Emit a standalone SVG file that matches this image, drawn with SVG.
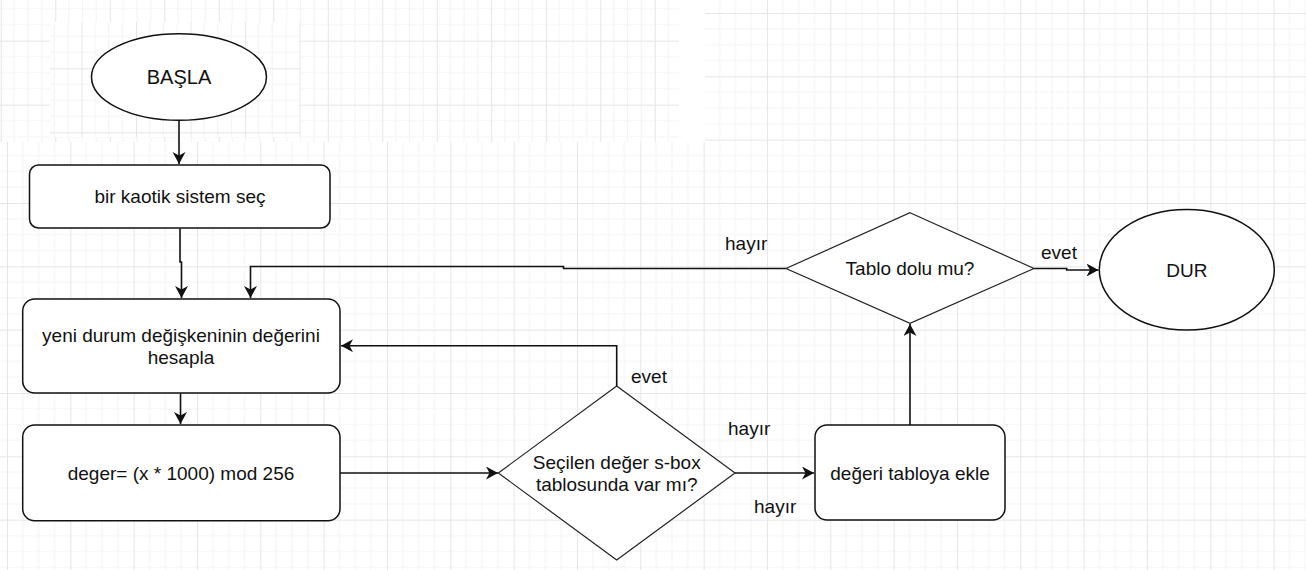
<svg xmlns="http://www.w3.org/2000/svg" width="1306" height="570" viewBox="0 0 1306 570">
<style>
.node{fill:#fff;stroke:#111;stroke-width:1.5}
.dia{fill:#fff;stroke:#222;stroke-width:1.2}
.t{font-family:"Liberation Sans",Arial,sans-serif;font-size:19px;fill:#111;text-anchor:middle}
.lbl{font-family:"Liberation Sans",Arial,sans-serif;font-size:19px;fill:#111}
.c{fill:none;stroke:#111;stroke-width:1.6}
</style>
<defs>
<pattern id="g" patternUnits="userSpaceOnUse" x="7" y="13" width="63.33" height="63.33">
<path d="M15.83,0V63.33M31.67,0V63.33M47.5,0V63.33M0,15.83H63.33M0,31.67H63.33M0,47.5H63.33" stroke="#f3f3f3" stroke-width="1" fill="none"/>
<path d="M0.5,0V63.33M0,0.5H63.33" stroke="#e6e6e6" stroke-width="1" fill="none"/>
</pattern>
<pattern id="g2" patternUnits="userSpaceOnUse" x="0.8" y="-23.3" width="54.5" height="64">
<path d="M13.6,0V64M27.25,0V64M40.9,0V64M0,16H54.5M0,32H54.5M0,48H54.5" stroke="#f3f3f3" stroke-width="1" fill="none"/>
<path d="M0.5,0V64M0,0.5H54.5" stroke="#e6e6e6" stroke-width="1" fill="none"/>
</pattern>
<pattern id="g3" patternUnits="userSpaceOnUse" x="27" y="4.3" width="54.5" height="64">
<path d="M13.6,0V64M27.25,0V64M40.9,0V64M0,16H54.5M0,32H54.5M0,48H54.5" stroke="#f3f3f3" stroke-width="1" fill="none"/>
<path d="M0.5,0V64M0,0.5H54.5" stroke="#e6e6e6" stroke-width="1" fill="none"/>
</pattern>
<marker id="a" markerUnits="userSpaceOnUse" markerWidth="14" markerHeight="14" refX="12" refY="6.5" orient="auto">
<path d="M0,0L12,6.5L0,13L3.5,6.5Z" fill="#111"/>
</marker>
</defs>
<g id="background">
<rect width="1306" height="570" fill="#fff"/>
<rect width="1306" height="570" fill="url(#g)"/>
<rect x="0" y="0" width="705" height="142" fill="#fff"/>
<rect x="0" y="0" width="679" height="142" fill="url(#g2)"/>
<rect x="50" y="22" width="250" height="115" fill="#fff"/>
<rect x="50" y="22" width="250" height="115" fill="url(#g3)"/>
</g>
<g id="connectors">
<path class="c" d="M179,120.5V164" marker-end="url(#a)"/>
<path class="c" d="M180,228.5V262H181.5V298" marker-end="url(#a)"/>
<path class="c" d="M786,268.5H563.5V266.5H250.5V298" marker-end="url(#a)"/>
<path class="c" d="M180.5,393.5V424" marker-end="url(#a)"/>
<path class="c" d="M340,473H498" marker-end="url(#a)"/>
<path class="c" d="M616.7,386V345.7H341" marker-end="url(#a)"/>
<path class="c" d="M735,473H814" marker-end="url(#a)"/>
<path class="c" d="M910,425V324" marker-end="url(#a)"/>
<path class="c" d="M1034,268.5H1066.7V270H1098.5" marker-end="url(#a)"/>
<text class="lbl" x="725" y="250">hayır</text>
<text class="lbl" x="631" y="383">evet</text>
<text class="lbl" x="728" y="435">hayır</text>
<text class="lbl" x="754" y="513">hayır</text>
<text class="lbl" x="1041" y="259">evet</text>
</g>
<g id="basla">
<ellipse class="node" cx="179" cy="77" rx="87.5" ry="43.3"/>
<text class="t" x="179" y="84" style="font-size:20px">BAŞLA</text>
</g>
<g id="sistem-sec">
<rect class="node" x="29.5" y="165" width="300.5" height="63" rx="9"/>
<text class="t" x="180" y="203">bir kaotik sistem seç</text>
</g>
<g id="hesapla">
<rect class="node" x="22.7" y="299" width="317.3" height="94" rx="12"/>
<text class="t" x="181" y="342">yeni durum değişkeninin değerini</text>
<text class="t" x="181" y="364">hesapla</text>
</g>
<g id="deger">
<rect class="node" x="22.7" y="425" width="317.3" height="95.7" rx="12"/>
<text class="t" x="181" y="480">deger= (x * 1000) mod 256</text>
</g>
<g id="secilen">
<polygon class="dia" points="616.7,386 735,473 616.7,560 498.3,473"/>
<text class="t" x="616.7" y="469">Seçilen değer s-box</text>
<text class="t" x="616.7" y="491">tablosunda var mı?</text>
</g>
<g id="ekle">
<rect class="node" x="815" y="425" width="190" height="95" rx="12"/>
<text class="t" x="910" y="480">değeri tabloya ekle</text>
</g>
<g id="tablo">
<polygon class="dia" points="910,212.7 1034,268.5 910,323.3 786,268.5"/>
<text class="t" x="910" y="275">Tablo dolu mu?</text>
</g>
<g id="dur">
<ellipse class="node" cx="1186.8" cy="269.7" rx="87.5" ry="60.3"/>
<text class="t" x="1186.8" y="276.5">DUR</text>
</g>
</svg>
